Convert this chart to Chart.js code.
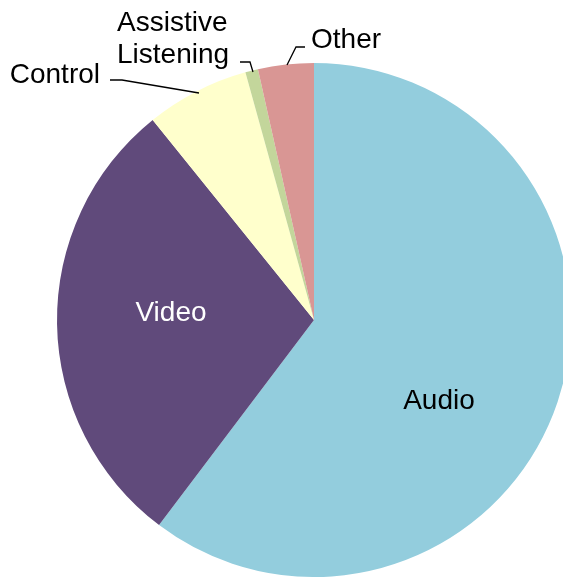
<!DOCTYPE html>
<html>
<head>
<meta charset="utf-8">
<script src="https://cdn.jsdelivr.net/npm/chart.js@4"></script>
<style>
  html, body { margin: 0; padding: 0; background: #fff; overflow: hidden; }
  #wrap { width: 563px; height: 577px; overflow: hidden; }
</style>
</head>
<body>
<div id="wrap"><canvas id="pie" width="600" height="577"></canvas></div>
<script>
// data, clockwise from 12 o'clock
const categories = ['Audio', 'Video', 'Control', 'Assistive Listening', 'Other'];
const shares = [60.3, 28.9, 6.5, 0.8, 3.5];
const sliceColors = ['#93cddd', '#604a7b', '#ffffcc', '#c3d69b', '#d99694'];

// label placement, relative to pie centre (px)
const labelStyle = [
  { text: ['Audio'], x: 125, y: 89, align: 'center', color: '#000' },
  { text: ['Video'], x: -143, y: 1, align: 'center', color: '#fff' },
  { text: ['Control'], x: -214, y: -237, align: 'right', color: '#000',
    leader: [[-204, -240], [-192, -240], [-115, -227]] },
  { text: ['Assistive', 'Listening'], x: -197, y: -289, align: 'left', color: '#000',
    leader: [[-74, -258], [-64, -258], [-61, -248]] },
  { text: ['Other'], x: -3, y: -272, align: 'left', color: '#000',
    leader: [[-9, -273], [-18, -273], [-27, -255]] }
];

const FONT = '28px "Liberation Sans", Arial, sans-serif';

const labelPlugin = {
  id: 'pieLabels',
  afterDatasetsDraw(chart) {
    const ctx = chart.ctx;
    const arc = chart.getDatasetMeta(0).data[0];
    const cx = arc.x, cy = arc.y;
    ctx.save();
    ctx.font = FONT;
    ctx.textBaseline = 'alphabetic';
    labelStyle.forEach(function (s) {
      if (s.leader) {
        ctx.strokeStyle = '#000';
        ctx.lineWidth = 1.3;
        ctx.beginPath();
        s.leader.forEach(function (p, i) {
          if (i === 0) ctx.moveTo(cx + p[0], cy + p[1]);
          else ctx.lineTo(cx + p[0], cy + p[1]);
        });
        ctx.stroke();
      }
      ctx.fillStyle = s.color;
      ctx.textAlign = s.align;
      s.text.forEach(function (line, i) {
        ctx.fillText(line, cx + s.x, cy + s.y + i * 31.5);
      });
    });
    ctx.restore();
  }
};

new Chart(document.getElementById('pie').getContext('2d'), {
  type: 'pie',
  data: {
    labels: categories,
    datasets: [{
      data: shares,
      backgroundColor: sliceColors,
      borderWidth: 0
    }]
  },
  options: {
    responsive: false,
    animation: false,
    layout: { padding: { left: 57, right: 29, top: 63, bottom: 0 } },
    plugins: {
      legend: { display: false },
      tooltip: { enabled: false }
    }
  },
  plugins: [labelPlugin]
});
</script>
</body>
</html>
